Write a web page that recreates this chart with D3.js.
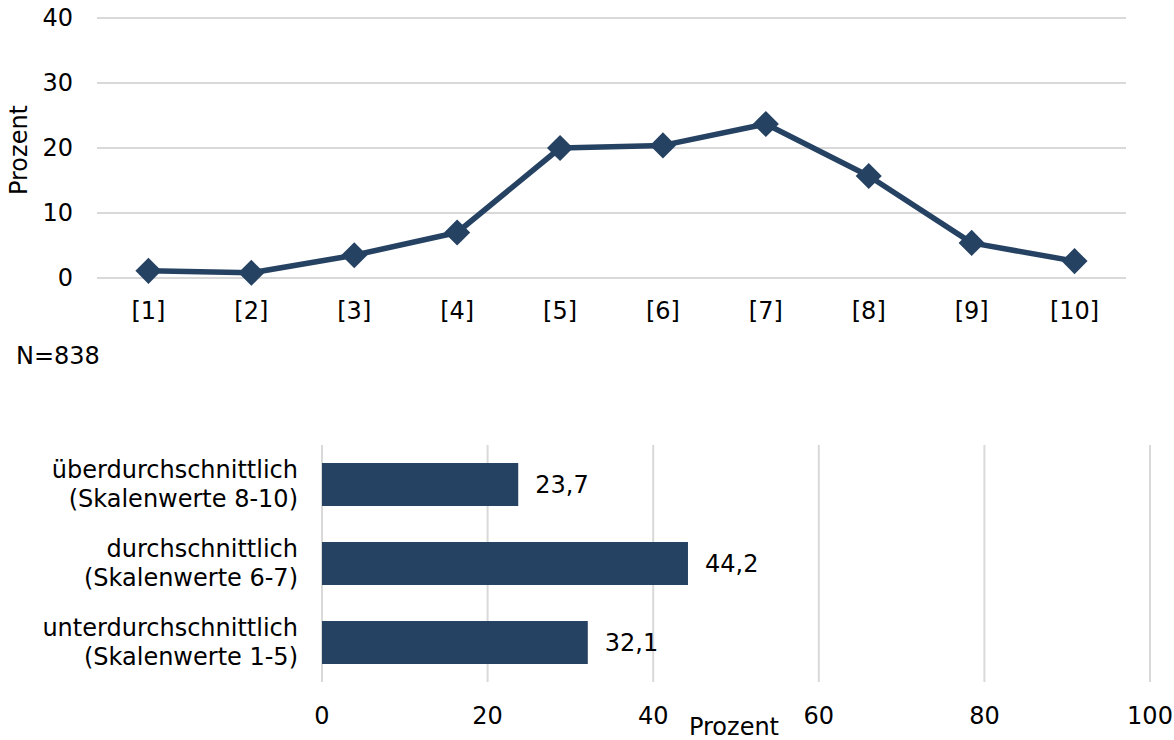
<!DOCTYPE html>
<html><head><meta charset="utf-8">
<script src="https://cdn.jsdelivr.net/npm/d3@7"></script>
<style>body{margin:0;background:#fff;}svg{display:block;font-family:"DejaVu Sans",Verdana,sans-serif;}</style>
</head><body>
<svg id="c" width="1174" height="740"></svg>
<script>
const lineCategories = ["[1]","[2]","[3]","[4]","[5]","[6]","[7]","[8]","[9]","[10]"];
const lineValues = [1.1, 0.8, 3.5, 7.0, 20.0, 20.4, 23.7, 15.7, 5.4, 2.6];
const lineTicks = [0, 10, 20, 30, 40];
const barCategories = [["überdurchschnittlich","(Skalenwerte 8-10)"],["durchschnittlich","(Skalenwerte 6-7)"],["unterdurchschnittlich","(Skalenwerte 1-5)"]];
const barValues = [23.7, 44.2, 32.1];
const barTicks = [0, 20, 40, 60, 80, 100];
const color = "#264263";
const grid = "#d9d9d9";
const fs = 24;

const svg = d3.select("#c");

// Top line chart
const x = d3.scaleBand().domain(lineCategories).range([97, 1126]);
const y = d3.scaleLinear().domain([0, 40]).range([278, 18]);
const g1 = svg.append("g");
g1.selectAll("line.g").data(lineTicks).join("line")
  .attr("x1", 97).attr("x2", 1126).attr("y1", d => y(d)).attr("y2", d => y(d))
  .attr("stroke", grid).attr("stroke-width", 2);
g1.selectAll("text.yt").data(lineTicks).join("text")
  .attr("x", 73).attr("y", d => y(d)).attr("dy", "0.35em").attr("text-anchor", "end")
  .attr("font-size", fs).attr("fill", "#000").text(d => d);
g1.selectAll("text.xt").data(lineCategories).join("text")
  .attr("x", d => x(d) + x.bandwidth()/2).attr("y", 311).attr("dy", "0.35em").attr("text-anchor", "middle")
  .attr("font-size", fs).attr("fill", "#000").text(d => d);
g1.append("text").attr("transform", "translate(19,150) rotate(-90)").attr("text-anchor", "middle")
  .attr("dy", "0.35em").attr("font-size", fs).text("Prozent");
g1.append("text").attr("x", 16).attr("y", 356).attr("dy", "0.35em").attr("font-size", fs).text("N=838");
const line = d3.line().x((d, i) => x(lineCategories[i]) + x.bandwidth()/2).y(d => y(d));
g1.append("path").datum(lineValues).attr("d", line).attr("fill", "none")
  .attr("stroke", color).attr("stroke-width", 5.5).attr("stroke-linejoin", "round");
g1.selectAll("path.m").data(lineValues).join("path")
  .attr("transform", (d, i) => `translate(${x(lineCategories[i]) + x.bandwidth()/2},${y(d)}) rotate(45)`)
  .attr("d", d3.symbol().type(d3.symbolSquare).size(340)).attr("fill", color);

// Bottom bar chart
const bx = d3.scaleLinear().domain([0, 100]).range([322, 1150]);
const by = d3.scaleBand().domain(d3.range(barValues.length)).range([445, 682]).paddingInner(0.456).paddingOuter(0.228);
const g2 = svg.append("g");
g2.selectAll("line.g").data(barTicks).join("line")
  .attr("x1", d => bx(d)).attr("x2", d => bx(d)).attr("y1", 445).attr("y2", 682)
  .attr("stroke", grid).attr("stroke-width", 2);
g2.selectAll("rect").data(barValues).join("rect")
  .attr("x", bx(0)).attr("y", (d, i) => by(i)).attr("width", d => bx(d) - bx(0)).attr("height", by.bandwidth())
  .attr("fill", color);
g2.selectAll("text.v").data(barValues).join("text")
  .attr("x", d => bx(d) + 17).attr("y", (d, i) => by(i) + by.bandwidth()/2).attr("dy", "0.35em")
  .attr("font-size", fs).text(d => d.toFixed(1).replace(".", ","));
g2.selectAll("text.xt").data(barTicks).join("text")
  .attr("x", d => bx(d)).attr("y", 716).attr("dy", "0.35em").attr("text-anchor", "middle")
  .attr("font-size", fs).text(d => d);
g2.append("text").attr("x", 734).attr("y", 727).attr("dy", "0.35em").attr("text-anchor", "middle")
  .attr("font-size", fs).text("Prozent");
barCategories.forEach((lines, i) => {
  const cy = by(i) + by.bandwidth()/2;
  const t = g2.append("text").attr("text-anchor", "end").attr("font-size", fs);
  lines.forEach((l, j) => t.append("tspan").attr("x", 298).attr("y", cy + (j - 0.5) * 29).attr("dy", "0.35em").text(l));
});
</script>
</body></html>
